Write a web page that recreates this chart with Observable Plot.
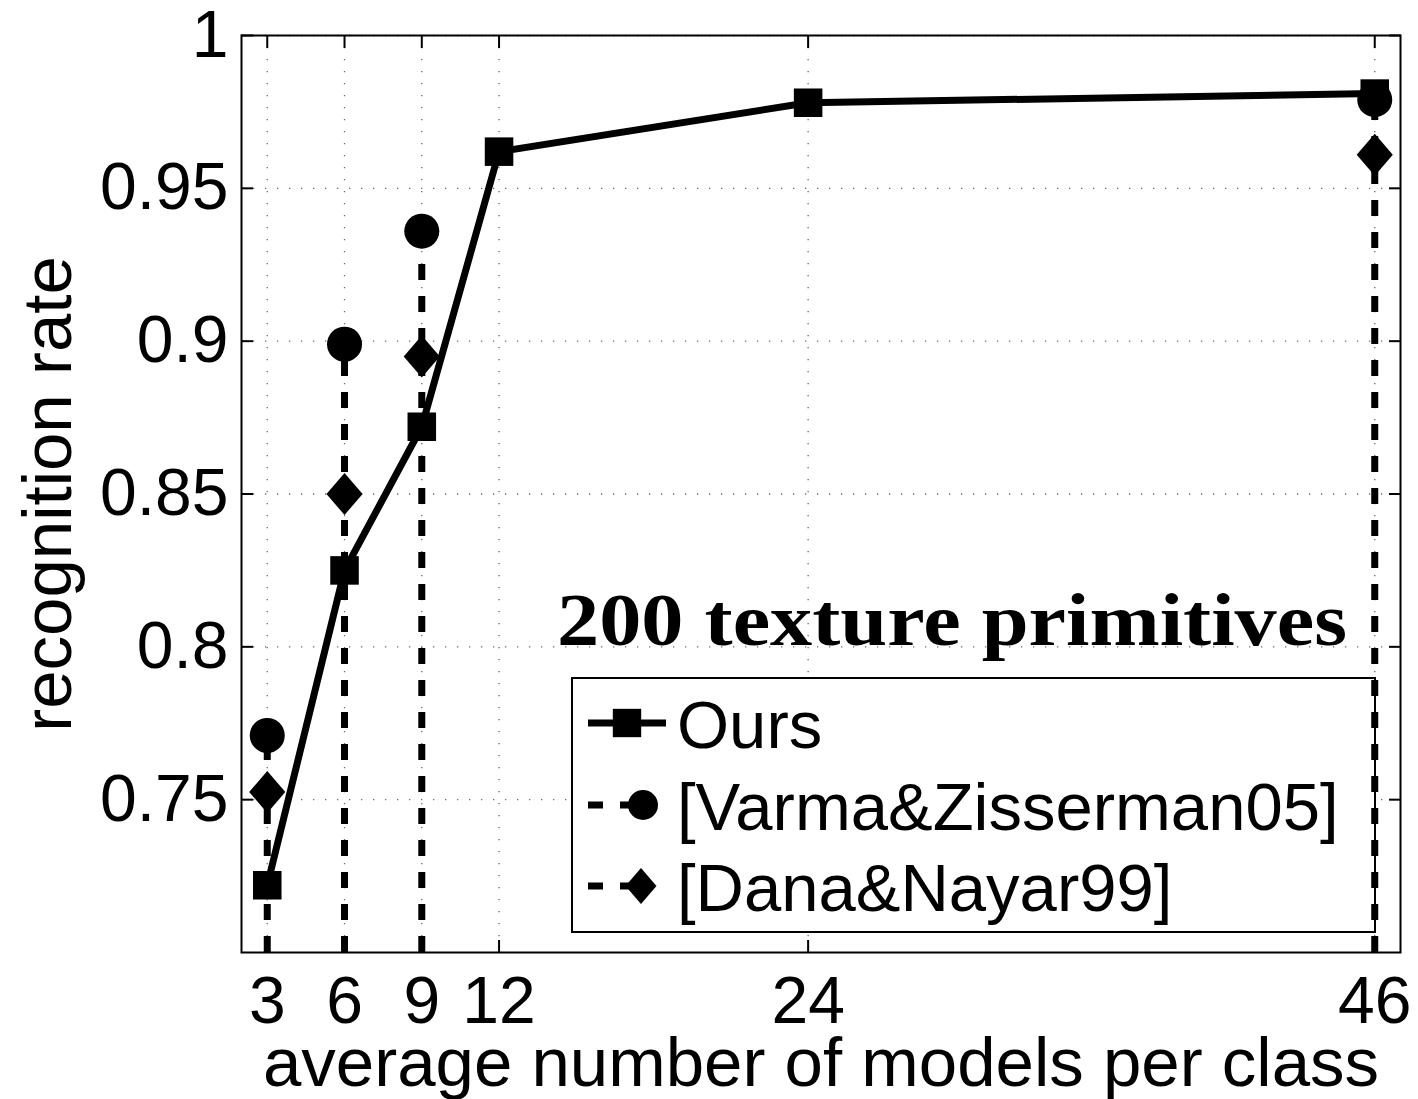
<!DOCTYPE html>
<html><head><meta charset="utf-8">
<script src="https://cdn.jsdelivr.net/npm/d3@7"></script>
<script src="https://cdn.jsdelivr.net/npm/@observablehq/plot@0.6"></script>
<style>html,body{margin:0;padding:0;background:#fff}</style>
</head><body><div id="chart"></div>
<script>
// ---- data ----
const models = [3, 6, 9, 12, 24, 46];
const ours = [0.722, 0.825, 0.872, 0.962, 0.978, 0.981];
const baselineModels = [3, 6, 9, 46];
const varma = [0.771, 0.899, 0.936, 0.979];
const dana = [0.7525, 0.850, 0.895, 0.961];
const xTicks = [3, 6, 9, 12, 24, 46];
const xTickLabels = ["3", "6", "9", "12", "24", "46"];
const yTicks = [0.75, 0.8, 0.85, 0.9, 0.95, 1];
const yTickLabels = ["0.75", "0.8", "0.85", "0.9", "0.95", "1"];
const xDomain = [2, 47];
const yDomain = [0.7, 1];
const seriesNames = ["Ours", "[Varma&Zisserman05]", "[Dana&Nayar99]"];
const xLabel = "average number of models per class";
const yLabel = "recognition rate";
const note = "200 texture primitives";

const oursData = models.map((m, i) => ({x: m, y: ours[i]}));
const varmaData = baselineModels.map((m, i) => ({x: m, y: varma[i]}));
const danaData = baselineModels.map((m, i) => ({x: m, y: dana[i]}));

const FONT = "'Liberation Sans', Arial, Helvetica, sans-serif";
const matlabDiamond = {
  draw(ctx, size) {
    const r = Math.sqrt(size / Math.PI), w = r * 0.86;
    ctx.moveTo(0, -r); ctx.lineTo(w, 0); ctx.lineTo(0, r); ctx.lineTo(-w, 0); ctx.closePath();
  }
};

function legendMark(index, scales, values, dim) {
  const fr = dim.width - dim.marginRight;
  const fb = dim.height - dim.marginBottom;
  const fl = dim.marginLeft;
  const g = d3.create("svg:g").attr("text-anchor", "start");
  g.append("text")
    .attr("x", fl + 316).attr("y", fb - 307)
    .attr("text-anchor", "start")
    .attr("font-family", "'Liberation Serif', 'Times New Roman', serif")
    .attr("font-weight", "bold").attr("font-size", 74)
    .attr("textLength", 790).attr("lengthAdjust", "spacingAndGlyphs")
    .attr("fill", "black")
    .text(note);
  const bx = fr - 828, by = fb - 274, bw = 803, bh = 254;
  g.append("rect").attr("x", bx).attr("y", by).attr("width", bw).attr("height", bh)
    .attr("fill", "white").attr("stroke", "black").attr("stroke-width", 2);
  const rows = [by + 45, by + 127, by + 208];
  const x0 = bx + 16, x1 = bx + 94, tx = bx + 105;
  // Ours
  g.append("line").attr("x1", x0).attr("x2", x1).attr("y1", rows[0]).attr("y2", rows[0])
    .attr("stroke", "black").attr("stroke-width", 7);
  g.append("path").attr("transform", `translate(${(x0 + x1) / 2},${rows[0]})`)
    .attr("d", d3.symbol(d3.symbolSquare, Math.PI * 16 * 16)()).attr("fill", "black");
  // Varma
  g.append("line").attr("x1", x0).attr("x2", x0 + 55).attr("y1", rows[1]).attr("y2", rows[1])
    .attr("stroke", "black").attr("stroke-width", 7).attr("stroke-dasharray", "15,17");
  g.append("path").attr("transform", `translate(${x0 + 55},${rows[1]})`)
    .attr("d", d3.symbol(d3.symbolCircle, Math.PI * 15 * 15)()).attr("fill", "black");
  // Dana
  g.append("line").attr("x1", x0).attr("x2", x0 + 53).attr("y1", rows[2]).attr("y2", rows[2])
    .attr("stroke", "black").attr("stroke-width", 7).attr("stroke-dasharray", "15,17");
  g.append("path").attr("transform", `translate(${x0 + 53},${rows[2]})`)
    .attr("d", d3.symbol(matlabDiamond, Math.PI * 18 * 18)()).attr("fill", "black");
  seriesNames.forEach((s, i) => {
    g.append("text").attr("x", tx).attr("y", rows[i] + 25)
      .attr("text-anchor", "start")
      .attr("font-family", FONT).attr("font-size", 67).attr("fill", "black").text(s);
  });
  return g.node();
}

const gridStyle = {stroke: "#6a6a6a", strokeOpacity: 1, strokeWidth: 1.3, strokeDasharray: "1.3,10.7"};

const chart = Plot.plot({
  width: 1418,
  height: 1099,
  marginLeft: 241,
  marginRight: 18,
  marginTop: 35,
  marginBottom: 147,
  style: {fontFamily: FONT, background: "white", color: "black", overflow: "visible"},
  x: {domain: xDomain},
  y: {domain: yDomain},
  marks: [
    Plot.gridX({ticks: xTicks, ...gridStyle}),
    Plot.gridY({ticks: yTicks, ...gridStyle}),
    legendMark,
    Plot.ruleX(varmaData, {x: "x", y1: () => yDomain[0], y2: "y", stroke: "black", strokeWidth: 7, strokeDasharray: "16,16"}),
    Plot.line(oursData, {x: "x", y: "y", stroke: "black", strokeWidth: 7}),
    Plot.dot(danaData, {x: "x", y: "y", symbol: matlabDiamond, r: 21, fill: "black"}),
    Plot.dot(varmaData, {x: "x", y: "y", symbol: "circle", r: 17.5, fill: "black"}),
    Plot.dot(oursData, {x: "x", y: "y", symbol: "square", r: 16.1, fill: "black"}),
    Plot.frame({stroke: "black", strokeWidth: 2}),
    // tick labels
    Plot.axisX({ticks: xTicks, tickSize: 0, tickPadding: 24, fontSize: 66, label: null,
      tickFormat: d => xTickLabels[xTicks.indexOf(d)]}),
    Plot.axisY({ticks: yTicks, tickSize: 0, tickPadding: 13, fontSize: 66, label: null,
      tickFormat: d => yTickLabels[yTicks.indexOf(d)]}),
    // inward ticks
    Plot.axisX({anchor: "bottom", ticks: xTicks, tickSize: 12, dy: -12, strokeWidth: 2, tickFormat: () => "", label: null}),
    Plot.axisX({anchor: "top", ticks: xTicks, tickSize: 12, dy: 12, strokeWidth: 2, tickFormat: () => "", label: null}),
    Plot.axisY({anchor: "left", ticks: yTicks, tickSize: 12, dx: 12, strokeWidth: 2, tickFormat: () => "", label: null}),
    Plot.axisY({anchor: "right", ticks: yTicks, tickSize: 12, dx: -12, strokeWidth: 2, tickFormat: () => "", label: null}),
    // axis titles
    Plot.text([xLabel], {frameAnchor: "bottom", textAnchor: "middle", dy: 133, lineAnchor: "bottom", text: d => d, fontSize: 69, fill: "black"}),
    Plot.text([yLabel], {frameAnchor: "left", textAnchor: "middle", dx: -171, lineAnchor: "bottom", rotate: -90, text: d => d, fontSize: 69, fill: "black"})
  ]
});
document.getElementById("chart").appendChild(chart);
</script>
</body></html>
